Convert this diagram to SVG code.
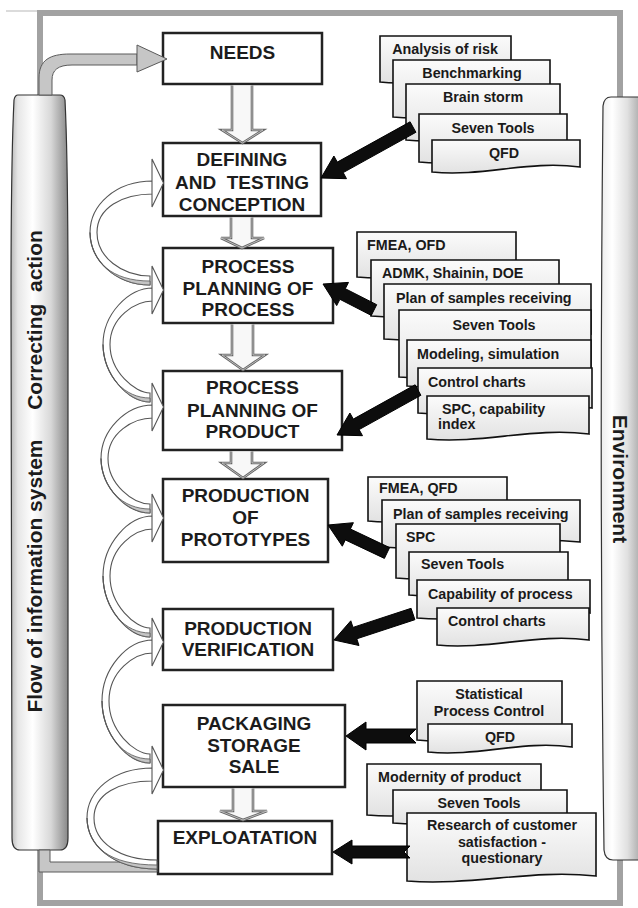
<svg xmlns="http://www.w3.org/2000/svg" width="638" height="908" viewBox="0 0 638 908">
<defs>
 <linearGradient id="gLeft" x1="0" y1="0" x2="1" y2="0">
  <stop offset="0" stop-color="#b8b8b8"/>
  <stop offset="0.12" stop-color="#e6e6e6"/>
  <stop offset="0.38" stop-color="#ffffff"/>
  <stop offset="0.7" stop-color="#d8d8d8"/>
  <stop offset="1" stop-color="#888888"/>
 </linearGradient>
 <linearGradient id="gRight" x1="0" y1="0" x2="1" y2="0">
  <stop offset="0" stop-color="#ececec"/>
  <stop offset="0.25" stop-color="#ffffff"/>
  <stop offset="0.6" stop-color="#e0e0e0"/>
  <stop offset="1" stop-color="#989898"/>
 </linearGradient>
 <linearGradient id="gDoc" x1="0" y1="0" x2="0" y2="1">
  <stop offset="0" stop-color="#fbfbfb"/>
  <stop offset="1" stop-color="#e2e2e2"/>
 </linearGradient>
</defs>
<style>
 .frame{fill:none;stroke:#a2a2a2;stroke-width:6}
 .box{fill:#fff;stroke:#222;stroke-width:2.5}
 .bt{font-family:"Liberation Sans",Arial,sans-serif;font-weight:bold;font-size:19px;fill:#1c1c1c;text-anchor:middle}
 .doc{fill:url(#gDoc);stroke:#111;stroke-width:1.6}
 .dt{font-family:"Liberation Sans",Arial,sans-serif;font-weight:bold;font-size:14.3px;fill:#1a1a1a}
 .c{text-anchor:middle}
 .down{fill:#f8f8f8;stroke:#666;stroke-width:2.6}
 .down2{fill:none;stroke:#cfcfcf;stroke-width:0.8}
 .band{fill:#fff;stroke:#555;stroke-width:1.1}
 .shade{fill:#c4c4c4;stroke:#555;stroke-width:0.8}
 .head{fill:#fff;stroke:#555;stroke-width:1.1}
 .blk{fill:#0d0d0d;stroke:#000;stroke-width:1}
 .side{font-family:"Liberation Sans",Arial,sans-serif;font-weight:bold;font-size:21px;fill:#1c1c1c;text-anchor:middle}
 .gband{fill:#c6c6c6;stroke:#5a5a5a;stroke-width:1}
 .pre{white-space:pre}
</style>
<rect width="638" height="908" fill="#fff"/>
<g id="frame">
 <line x1="6" y1="11" x2="40" y2="11" stroke="#cfcfcf" stroke-width="1.5"/>
 <rect class="frame" x="40" y="13" width="580" height="890"/>
</g>
<g id="flow-column">
 <path d="M18,95 L60,95 Q64,95 65,100 Q68,160 68,300 L68,838 Q68,850 60,850 L20,850 Q12,850 12,838 L11,300 Q11,160 14,100 Q15,95 18,95 Z" fill="url(#gLeft)" stroke="#333" stroke-width="1.2"/>
 <text class="side pre" xml:space="preserve" transform="translate(42,320) rotate(-90)">Correcting  action</text>
 <text class="side" transform="translate(42,576) rotate(-90)">Flow of information system</text>
</g>
<g id="environment">
 <path d="M645,97 L611,97 Q604,97 603,106 Q599,480 604,850 Q605,860 613,860 L645,860 Z" fill="url(#gRight)" stroke="#333" stroke-width="1.2"/>
 <text class="side" transform="translate(613,479) rotate(90)">Environment</text>
</g>
<g id="needs"><rect class="box" x="163" y="33" width="159" height="51"/><text class="bt" x="242.5" y="59">NEEDS</text></g>
<g id="defining"><rect class="box" x="163" y="143" width="158" height="73"/>
 <text class="bt" x="242" y="166">DEFINING</text><text class="bt pre" xml:space="preserve" x="242" y="189">AND  TESTING</text><text class="bt" x="242" y="211">CONCEPTION</text></g>
<g id="planning-process"><rect class="box" x="163" y="248" width="170" height="75"/>
 <text class="bt" x="248" y="273">PROCESS</text><text class="bt" x="248" y="295">PLANNING OF</text><text class="bt" x="248" y="316">PROCESS</text></g>
<g id="planning-product"><rect class="box" x="163" y="371" width="179" height="79"/>
 <text class="bt" x="252.5" y="394">PROCESS</text><text class="bt" x="252.5" y="417">PLANNING OF</text><text class="bt" x="252.5" y="438">PRODUCT</text></g>
<g id="prototypes"><rect class="box" x="163" y="479" width="165" height="83"/>
 <text class="bt" x="245.5" y="502">PRODUCTION</text><text class="bt" x="245.5" y="524">OF</text><text class="bt" x="245.5" y="546">PROTOTYPES</text></g>
<g id="verification"><rect class="box" x="163" y="609" width="170" height="61"/>
 <text class="bt" x="248" y="635">PRODUCTION</text><text class="bt" x="248" y="656">VERIFICATION</text></g>
<g id="packaging"><rect class="box" x="163" y="705" width="182" height="82"/>
 <text class="bt" x="254" y="730">PACKAGING</text><text class="bt" x="254" y="752">STORAGE</text><text class="bt" x="254" y="773">SALE</text></g>
<g id="exploatation"><rect class="box" x="158" y="821" width="174" height="53"/>
 <text class="bt" x="245" y="844">EXPLOATATION</text></g>
<g id="tools-conception">
 <path class="doc" d="M380,36 H511 V77 C465,70 426,87 380,82 Z"/><text class="dt c" x="445" y="54">Analysis of risk</text>
 <path class="doc" d="M393,60 H550 V112 C495,105 448,122 393,117 Z"/><text class="dt c" x="472" y="78">Benchmarking</text>
 <path class="doc" d="M406,84 H560 V135 C506,128 460,145 406,140 Z"/><text class="dt c" x="483" y="102">Brain storm</text>
 <path class="doc" d="M419,114 H567 V157 C515,150 471,167 419,162 Z"/><text class="dt c" x="493" y="133">Seven Tools</text>
 <path class="doc" d="M432,140 H580 V167 C528,160 484,177 432,172 Z"/><text class="dt c" x="504" y="158">QFD</text>
</g>
<g id="tools-planning">
 <path class="doc" d="M357,232 H516 V272 C460,265 413,282 357,277 Z"/><text class="dt" x="367" y="250">FMEA, OFD</text>
 <path class="doc" d="M371,260 H559 V311 C493,304 437,321 371,316 Z"/><text class="dt" x="382" y="278">ADMK, Shainin, DOE</text>
 <path class="doc" d="M384,284 H591 V334 C519,327 456,344 384,339 Z"/><text class="dt" x="396" y="303">Plan of samples receiving</text>
 <path class="doc" d="M399,310 H591 V372 C524,365 466,382 399,377 Z"/><text class="dt c" x="494" y="330">Seven Tools</text>
 <path class="doc" d="M407,340 H591 V381 C527,374 471,391 407,386 Z"/><text class="dt" x="417" y="359">Modeling, simulation</text>
 <path class="doc" d="M418,368 H592 V408 C531,401 479,418 418,413 Z"/><text class="dt" x="428" y="387">Control charts</text>
 <path class="doc" d="M427,396 H589 V434 C532,427 484,444 427,439 Z"/><text class="dt" x="442" y="414">SPC, capability</text><text class="dt" x="438" y="429">index</text>
</g>
<g id="tools-prototypes">
 <path class="doc" d="M368,477 H507 V516 C458,509 417,526 368,521 Z"/><text class="dt" x="379" y="493">FMEA, QFD</text>
 <path class="doc" d="M382,500 H580 V542 C511,535 451,552 382,547 Z"/><text class="dt" x="393" y="519">Plan of samples receiving</text>
 <path class="doc" d="M396,524 H560 V573 C503,566 453,583 396,578 Z"/><text class="dt" x="406" y="542">SPC</text>
 <path class="doc" d="M409,552 H568 V590 C512,583 465,600 409,595 Z"/><text class="dt" x="421" y="569">Seven Tools</text>
 <path class="doc" d="M417,580 H590 V613 C529,606 478,623 417,618 Z"/><text class="dt" x="428" y="599">Capability of process</text>
 <path class="doc" d="M437,608 H589 V640 C536,633 490,650 437,645 Z"/><text class="dt" x="448" y="626">Control charts</text>
</g>
<g id="tools-packaging">
 <path class="doc" d="M417,681 H562 V735 C511,728 468,745 417,740 Z"/><text class="dt c" x="489" y="699">Statistical</text><text class="dt c" x="489" y="716">Process Control</text>
 <path class="doc" d="M428,724 H572 V747 C522,740 478,757 428,752 Z"/><text class="dt c" x="500" y="742">QFD</text>
</g>
<g id="tools-exploatation">
 <path class="doc" d="M367,764 H541 V810 C480,803 428,820 367,815 Z"/><text class="dt" x="378" y="782">Modernity of product</text>
 <path class="doc" d="M393,790 H567 V818 C506,811 454,828 393,823 Z"/><text class="dt c" x="479" y="808">Seven Tools</text>
 <path class="doc" d="M407,813 H596 V876 C530,869 473,886 407,881 Z"/><text class="dt c" x="502" y="830">Research of customer</text><text class="dt c" x="502" y="847">satisfaction -</text><text class="dt c" x="502" y="863">questionary</text>
</g>
<g id="connectors">
 <path class="gband" d="M39,95 L39,78 C39,60 50,54 70,54 L137,54 L137,65 L72,65 C58,65 52,70 52,80 L52,95 Z"/>
 <polygon class="gband" points="137,45 167,59 137,72"/>
 <path class="gband" d="M39,850 L39,872 L157,872 L157,862 L50,862 L50,850 Z"/>
 <path class="band" d="M153,181 C115,181 90,205.3 90,232.5 C90,259.7 115,285 150,285 L150,276 C122,276 97,257.3 97,232.5 C97,207.8 122,194 153,194 Z"/>
 <path class="shade" d="M150,285 C115,285 90,259.7 90,232.5 C91,262.2 112,281 150,281 Z"/>
 <path class="band" d="M153,288 C128,288 103,314.5 103,344.5 C103,374.5 128,402 150,402 L150,393 C135,393 110,371.8 110,344.5 C110,317.3 135,301 153,301 Z"/>
 <path class="shade" d="M150,402 C128,402 103,374.5 103,344.5 C104,377.2 125,398 150,398 Z"/>
 <path class="band" d="M153,405 C126,405 101,430.2 101,458.5 C101,486.8 126,513 150,513 L150,504 C133,504 108,484.3 108,458.5 C108,432.8 133,418 153,418 Z"/>
 <path class="shade" d="M150,513 C126,513 101,486.8 101,458.5 C102,489.4 123,509 150,509 Z"/>
 <path class="band" d="M153,516 C128,516 103,544.1 103,576 C103,607.9 128,637 150,637 L150,628 C135,628 110,605 110,576 C110,547 135,529 153,529 Z"/>
 <path class="shade" d="M150,637 C128,637 103,607.9 103,576 C104,610.8 125,633 150,633 Z"/>
 <path class="band" d="M153,640 C127,640 102,668.6 102,701 C102,733.5 127,763 150,763 L150,754 C134,754 109,730.5 109,701 C109,671.5 134,653 153,653 Z"/>
 <path class="shade" d="M150,763 C127,763 102,733.5 102,701 C103,736.4 124,759 150,759 Z"/>
 <path class="band" d="M153,768 C112,768 87,791.6 87,818 C87,844.4 112,869 157,869 L157,860 C119,860 94,842 94,818 C94,794 119,781 153,781 Z"/>
 <path class="shade" d="M157,869 C112,869 87,844.4 87,818 C88,846.8 109,865 157,865 Z"/>
 <polygon class="head" points="152,159 163.5,183 152,207"/>
 <polygon class="head" points="152,266 163.5,290 152,314"/>
 <polygon class="head" points="152,383 163.5,407 152,431"/>
 <polygon class="head" points="152,494 163.5,518 152,542"/>
 <polygon class="head" points="152,618 163.5,642 152,666"/>
 <polygon class="head" points="152,746 163.5,770 152,794"/>
 <path class="down" d="M232,85.5 V130 H222 L242.5,143 L263,130 H252 V85.5"/>
 <path class="down2" d="M232,85.5 V130 H222 L242.5,143 L263,130 H252 V85.5"/>
 <path class="down" d="M231,217.5 V238 H221 L242,248 L264,238 H252 V217.5"/>
 <path class="down2" d="M231,217.5 V238 H221 L242,248 L264,238 H252 V217.5"/>
 <path class="down" d="M232,324.5 V355 H222 L243,370 L265,355 H253 V324.5"/>
 <path class="down2" d="M232,324.5 V355 H222 L243,370 L265,355 H253 V324.5"/>
 <path class="down" d="M231,451.5 V463 H222 L243,478 L264,463 H252 V451.5"/>
 <path class="down2" d="M231,451.5 V463 H222 L243,478 L264,463 H252 V451.5"/>
 <path class="down" d="M233,788.5 V811 H220 L243,820 L267,811 H253 V788.5"/>
 <path class="down2" d="M233,788.5 V811 H220 L243,820 L267,811 H253 V788.5"/>
 <polygon class="blk" points="410.1,121.8 337.3,162.1 333.9,156.0 321,178 346.5,178.7 343.2,172.6 415.9,132.3"/>
 <polygon class="blk" points="376.7,304.7 345.3,288.7 348.5,282.4 323,284 336.7,305.6 339.9,299.3 371.3,315.4"/>
 <polygon class="blk" points="415.1,384.8 353.3,419.1 349.9,413.0 337,435 362.5,435.7 359.1,429.6 420.9,395.3"/>
 <polygon class="blk" points="389.6,547.6 350.4,529.0 353.4,522.7 328,525 342.3,546.2 345.3,539.9 384.4,558.4"/>
 <polygon class="blk" points="411.1,608.3 353.0,627.4 350.8,620.8 334,640 359.0,645.5 356.8,638.8 414.9,619.7"/>
 <polygon class="blk" points="416,729 366,729 366,722 346,736 366,750 366,743 416,743 409,736"/>
 <polygon class="blk" points="410,846 352,846 352,840 333,852 352,864 352,858 410,858 404,852"/>
</g>
</svg>
